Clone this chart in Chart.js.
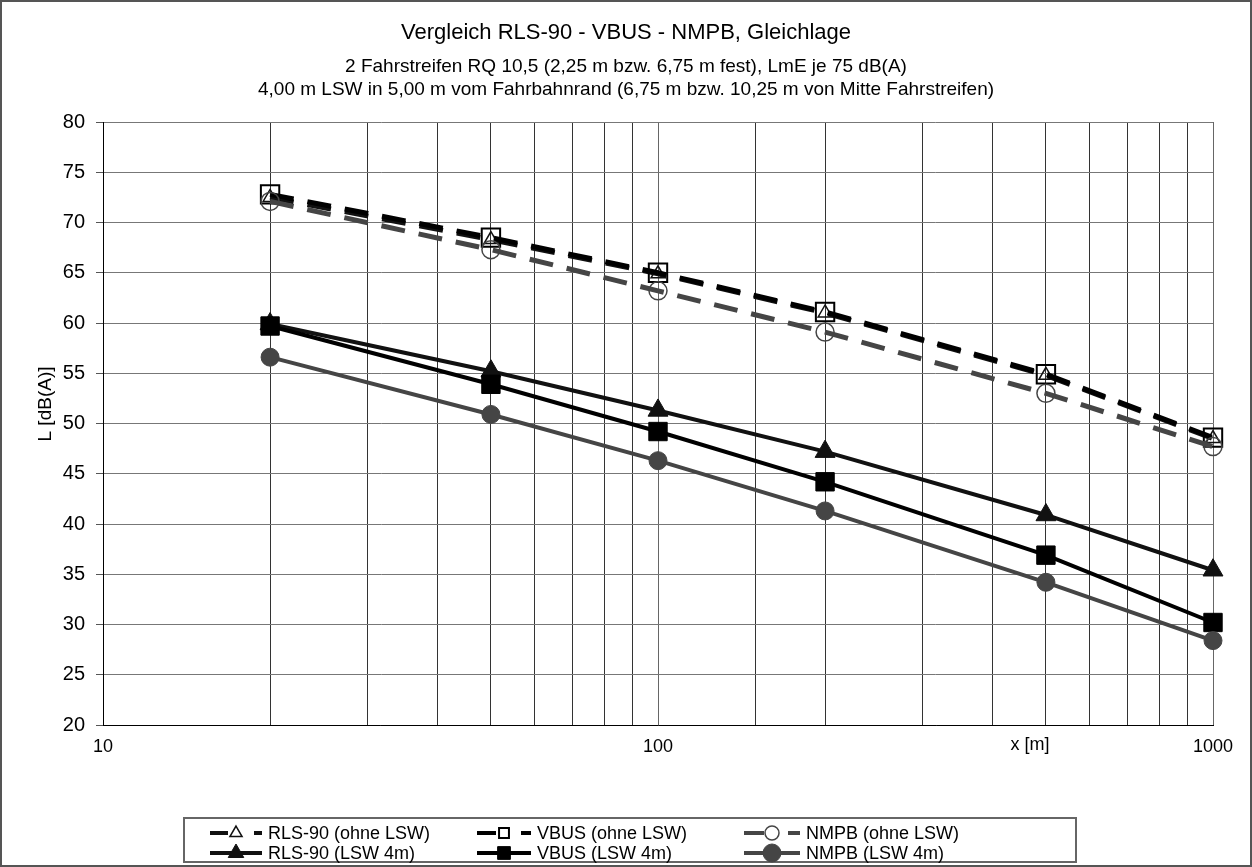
<!DOCTYPE html>
<html>
<head>
<meta charset="utf-8">
<script src="https://cdn.jsdelivr.net/npm/chart.js@4"></script>
<style>
  html, body { margin: 0; padding: 0; background: #fff; }
  #wrap { width: 1252px; height: 867px; position: relative; }
  canvas { display: block; }
</style>
</head>
<body>
<div id="wrap"><canvas id="c" width="1252" height="867"></canvas></div>
<script>
// ---- data ----
const distances = [20, 50, 100, 200, 500, 1000];
const rlsOhne  = [72.5, 68.3, 64.9, 61.0, 54.8, 48.5];
const vbusOhne = [72.8, 68.5, 65.0, 61.1, 54.9, 48.6];
const nmpbOhne = [72.1, 67.3, 63.2, 59.1, 53.0, 47.7];
const rlsLsw   = [59.9, 55.2, 51.3, 47.2, 40.9, 35.4];
const vbusLsw  = [59.7, 53.9, 49.2, 44.2, 36.9, 30.2];
const nmpbLsw  = [56.6, 50.9, 46.3, 41.3, 34.2, 28.4];
const xTickLabels = [10, 100, 1000];
const seriesNames = ['RLS-90 (ohne LSW)', 'VBUS (ohne LSW)', 'NMPB (ohne LSW)',
                     'RLS-90 (LSW 4m)', 'VBUS (LSW 4m)', 'NMPB (LSW 4m)'];
const titleText = 'Vergleich RLS-90 - VBUS - NMPB, Gleichlage';
const subtitleLines = ['2 Fahrstreifen RQ 10,5 (2,25 m bzw. 6,75 m fest), LmE je 75 dB(A)',
                       '4,00 m LSW in 5,00 m vom Fahrbahnrand (6,75 m bzw. 10,25 m von Mitte Fahrstreifen)'];
const yTitle = 'L [dB(A)]';
const xTitle = 'x [m]';

const FONT = "'Liberation Sans', Arial, sans-serif";
const NARROW = "'Liberation Sans Narrow', 'Liberation Sans', Arial, sans-serif";
const pts = arr => arr.map((v, i) => ({ x: distances[i], y: v }));

const DASH = [24, 14];
const styles = [
  { color: '#111', dash: DASH, width: 5, ps: 'triangle', r: 8,  fill: 'rgba(0,0,0,0)', bw: 1.5 },
  { color: '#000', dash: DASH, width: 5, ps: 'rect',     r: 13, fill: 'rgba(0,0,0,0)', bw: 2 },
  { color: '#454545', dash: DASH, width: 5, ps: 'circle', r: 9, fill: 'rgba(0,0,0,0)', bw: 1.5 },
  { color: '#111', dash: [], width: 4, ps: 'triangle', r: 11.5, fill: '#111', bw: 1 },
  { color: '#000', dash: [], width: 4, ps: 'rect',     r: 13,   fill: '#000', bw: 1 },
  { color: '#454545', dash: [], width: 4, ps: 'circle', r: 9,   fill: '#454545', bw: 1 }
];
const seriesData = [rlsOhne, vbusOhne, nmpbOhne, rlsLsw, vbusLsw, nmpbLsw];

const datasets = seriesData.map((d, i) => ({
  label: seriesNames[i],
  data: pts(d),
  borderColor: styles[i].color,
  borderWidth: styles[i].width,
  borderDash: styles[i].dash,
  pointStyle: styles[i].ps,
  pointRadius: styles[i].r,
  pointHoverRadius: styles[i].r,
  pointBackgroundColor: styles[i].fill,
  pointBorderColor: styles[i].color,
  pointBorderWidth: styles[i].bw,
  tension: 0,
  fill: false,
  clip: false,
  order: 6 - i
}));

const decoPlugin = {
  id: 'deco',
  afterDraw(chart) {
    const ctx = chart.ctx;
    ctx.save();
    // outer border
    ctx.strokeStyle = '#555';
    ctx.lineWidth = 2;
    ctx.strokeRect(1, 1, 1250, 865);
    // titles
    ctx.fillStyle = '#000';
    ctx.textAlign = 'center';
    ctx.textBaseline = 'middle';
    ctx.font = "22px " + NARROW;
    ctx.fillText(titleText, 626, 33);
    ctx.font = "19px " + NARROW;
    ctx.fillText(subtitleLines[0], 626, 67);
    ctx.fillText(subtitleLines[1], 626, 90);
    // y title
    ctx.save();
    ctx.translate(46, 404);
    ctx.rotate(-Math.PI / 2);
    ctx.font = "19px " + FONT;
    ctx.fillText(yTitle, 0, 0);
    ctx.restore();
    // x title
    ctx.font = "18px " + NARROW;
    ctx.fillText(xTitle, 1030, 745);
    // legend box
    ctx.strokeStyle = '#666';
    ctx.lineWidth = 2;
    ctx.strokeRect(184, 818, 892, 44);
    const cols = [{ lx: 210, tx: 268 }, { lx: 477, tx: 537 }, { lx: 744, tx: 806 }];
    const rows = [833, 853];
    for (let i = 0; i < 6; i++) {
      const s = styles[i];
      const c = cols[i % 3], y = rows[Math.floor(i / 3)];
      const x0 = c.lx, x1 = c.tx - 6;
      ctx.strokeStyle = s.color;
      ctx.lineWidth = 4;
      ctx.setLineDash(s.dash.length ? [30, 14] : []);
      ctx.beginPath();
      ctx.moveTo(x0, y); ctx.lineTo(x1, y);
      ctx.stroke();
      ctx.setLineDash([]);
      ctx.fillStyle = s.fill === 'rgba(0,0,0,0)' ? '#fff' : s.fill;
      ctx.lineWidth = s.bw;
      const mx = (x0 + x1) / 2;
      if (s.dash.length) {
        ctx.fillStyle = '#fff';
        ctx.fillRect(mx - 8, y - 8, 16, 16);
        ctx.fillStyle = 'rgba(0,0,0,0)';
      }
      Chart.helpers.drawPoint(ctx, { pointStyle: s.ps, rotation: 0, radius: s.dash.length ? 7 : 9, borderWidth: s.bw }, mx, y);
      ctx.fillStyle = '#000';
      ctx.textAlign = 'left';
      ctx.font = "18px " + FONT;
      ctx.fillText(seriesNames[i], c.tx, y + 1);
    }
    ctx.restore();
  }
};

new Chart(document.getElementById('c'), {
  type: 'line',
  data: { datasets },
  options: {
    responsive: false,
    animation: false,
    events: [],
    layout: { padding: { top: 122, right: 39, bottom: 102, left: 0 } },
    plugins: { legend: { display: false }, title: { display: false }, tooltip: { enabled: false } },
    scales: {
      x: {
        type: 'logarithmic',
        min: 10, max: 1000,
        afterFit(scale) { scale.height = 40; },
        border: { color: '#000', width: 1 },
        grid: {
          drawTicks: false,
          color: ctx => (ctx.tick && [10, 100, 1000].includes(ctx.tick.value)) ? '#666' : '#333',
          lineWidth: 1
        },
        ticks: {
          autoSkip: false, maxRotation: 0, padding: 11,
          color: '#000',
          font: { family: NARROW, size: 18 },
          callback: v => xTickLabels.includes(v) ? String(v) : ''
        }
      },
      y: {
        min: 20, max: 80,
        afterFit(scale) { scale.width = 103; },
        border: { color: '#000', width: 1 },
        grid: { color: '#777', lineWidth: 1, tickLength: 7, tickColor: '#555' },
        ticks: { stepSize: 5, padding: 11, color: '#000', font: { family: FONT, size: 20 } }
      }
    }
  },
  plugins: [decoPlugin]
});
</script>
</body>
</html>
